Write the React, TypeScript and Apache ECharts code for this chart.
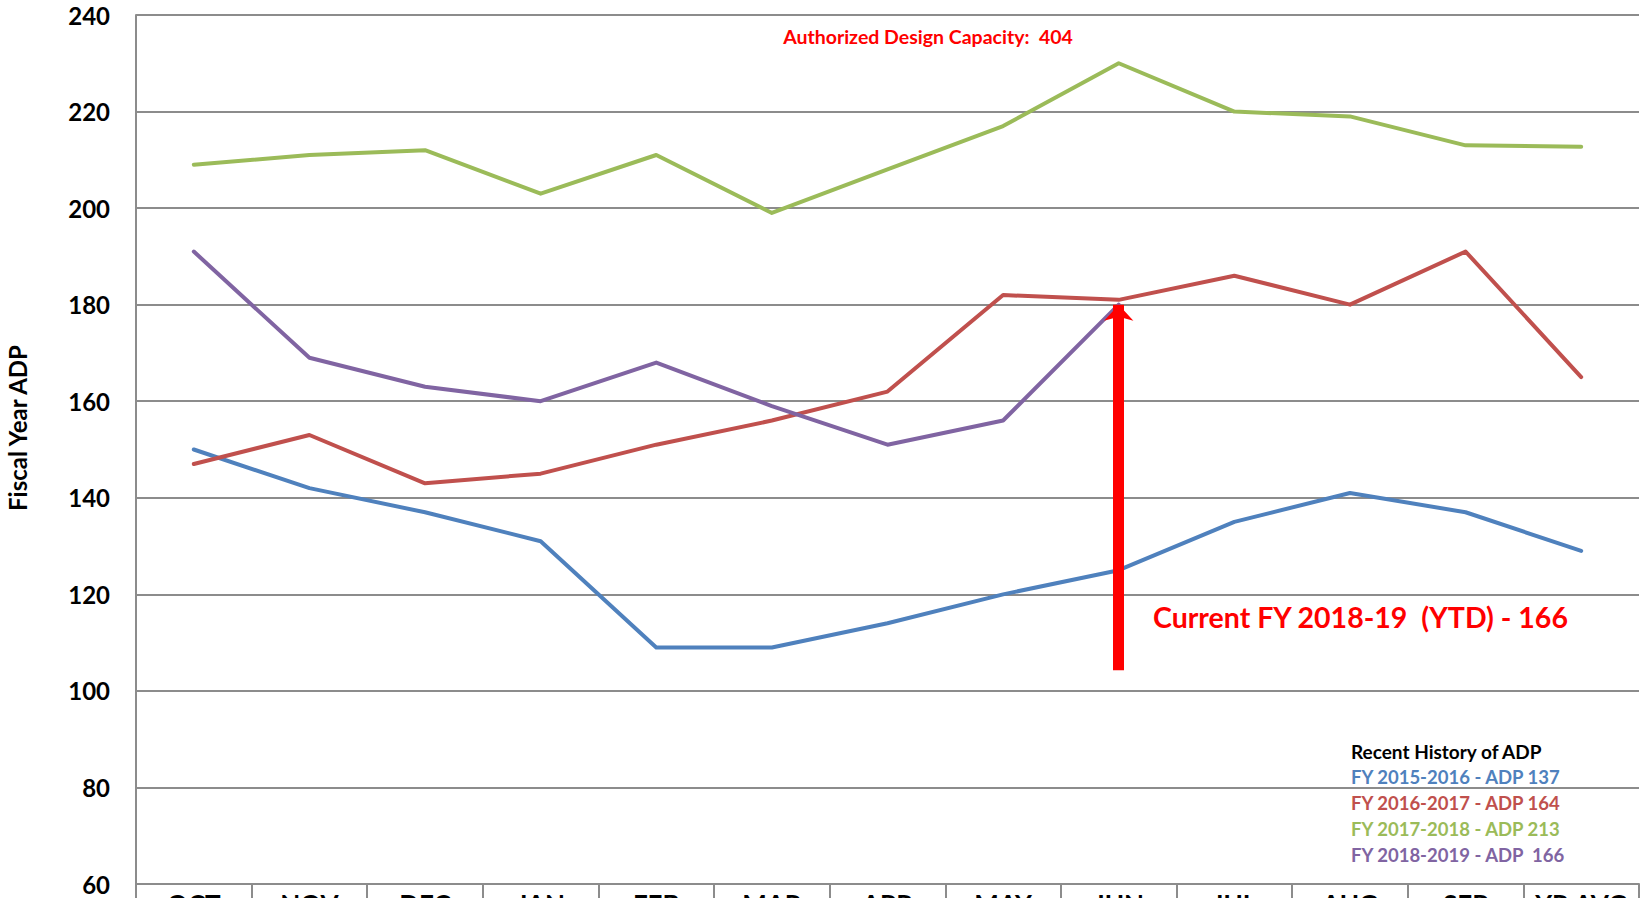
import React, { useEffect, useRef } from "react";
import * as echarts from "echarts";

const months = ["OCT", "NOV", "DEC", "JAN", "FEB", "MAR", "APR", "MAY", "JUN", "JUL", "AUG", "SEP", "YR AVG"];
const fy1516 = [150, 142, 137, 131, 109, 109, 114, 120, 125, 135, 141, 137, 129];
const fy1617 = [147, 153, 143, 145, 151, 156, 162, 182, 181, 186, 180, 191, 165];
const fy1718 = [209, 211, 212, 203, 211, 199, 208, 217, 230, 220, 219, 213, 212.7];
const fy1819 = [191, 169, 163, 160, 168, 159, 151, 156, 180];
const seriesNames = ["FY 2015-2016", "FY 2016-2017", "FY 2017-2018", "FY 2018-2019"];
const colors = ["#4F81BD", "#C0504D", "#9BBB59", "#8064A2"];
const legendTitle = "Recent History of ADP";
const legendLines = ["FY 2015-2016 - ADP 137", "FY 2016-2017 - ADP 164", "FY 2017-2018 - ADP 213", "FY 2018-2019 - ADP  166"];
const arrowFrom = 104.3;
const arrowTo = 180;
const arrowMonthIndex = 8.03;
const capacityText = "Authorized Design Capacity:  404";
const currentText = "Current FY 2018-19  (YTD) - 166";
const yName = "Fiscal Year ADP";

const FONT = "Lato, 'Open Sans', sans-serif";
const GRID = "#8C8C8C";

export default function App() {
  const ref = useRef<HTMLDivElement>(null);
  useEffect(() => {
    if (!ref.current) return;
    const chart = echarts.init(ref.current, null, { renderer: "svg" });
    const allData = [fy1516, fy1617, fy1718, fy1819];
    const series: any[] = allData.map((d, i) => ({
      name: seriesNames[i],
      type: "line",
      data: d,
      symbol: "none",
      lineStyle: { width: 4, color: colors[i], cap: "round", join: "round" },
      itemStyle: { color: colors[i] },
      z: 3,
    }));
    series.push({
      name: "arrow",
      type: "line",
      data: [],
      markLine: {
        silent: true,
        symbol: ["none", "arrow"],
        symbolSize: [22, 16],
        label: { show: false },
        lineStyle: { color: "#FF0000", width: 11, type: "solid" },
        data: [[{ coord: [arrowMonthIndex, arrowFrom] }, { coord: [arrowMonthIndex, arrowTo] }]],
      },
      z: 4,
    });
    const legendGraphics: any[] = [
      {
        type: "text",
        x: 1351,
        y: 751,
        style: { text: legendTitle, fill: "#000", font: `bold 19px ${FONT}`, verticalAlign: "middle" },
      },
      ...legendLines.map((t, i) => ({
        type: "text",
        x: 1351,
        y: 777 + i * 26,
        style: { text: t, fill: colors[i], font: `bold 18.5px ${FONT}`, verticalAlign: "middle" },
      })),
    ];
    chart.setOption({
      animation: false,
      textStyle: { fontFamily: FONT },
      grid: { left: 136, top: 15, width: 1503, height: 869, containLabel: false, outerBoundsMode: "none" },
      xAxis: {
        type: "category",
        data: months,
        boundaryGap: true,
        axisLine: { show: true, lineStyle: { color: GRID, width: 2 } },
        axisTick: { show: true, interval: 0, length: 24, lineStyle: { color: GRID, width: 2 } },
        axisLabel: { interval: 0, margin: 7, color: "#000", fontWeight: "bold", fontSize: 26, fontFamily: FONT },
        splitLine: { show: false },
      },
      yAxis: {
        type: "value",
        min: 60,
        max: 240,
        interval: 20,
        axisLine: { show: true, lineStyle: { color: GRID, width: 2 } },
        axisTick: { show: false },
        axisLabel: { margin: 26, color: "#000", fontWeight: "bold", fontSize: 24, fontFamily: FONT },
        splitLine: { show: true, lineStyle: { color: GRID, width: 2 } },
      },
      series,
      graphic: [
        {
          type: "text",
          x: 928,
          y: 36,
          style: { text: capacityText, fill: "#FF0000", font: `bold 19.5px ${FONT}`, align: "center", verticalAlign: "middle" },
        },
        {
          type: "text",
          x: 1153,
          y: 617,
          style: { text: currentText, fill: "#FF0000", font: `bold 28.5px ${FONT}`, align: "left", verticalAlign: "middle" },
        },
        {
          type: "text",
          x: 17,
          y: 428,
          rotation: Math.PI / 2,
          style: { text: yName, fill: "#000", font: `bold 24px ${FONT}`, align: "center", verticalAlign: "middle" },
        },
        ...legendGraphics,
      ],
    });
    return () => chart.dispose();
  }, []);
  return <div ref={ref} style={{ position: "fixed", left: 0, top: 0, width: 1642, height: 898, background: "#fff" }} />;
}
